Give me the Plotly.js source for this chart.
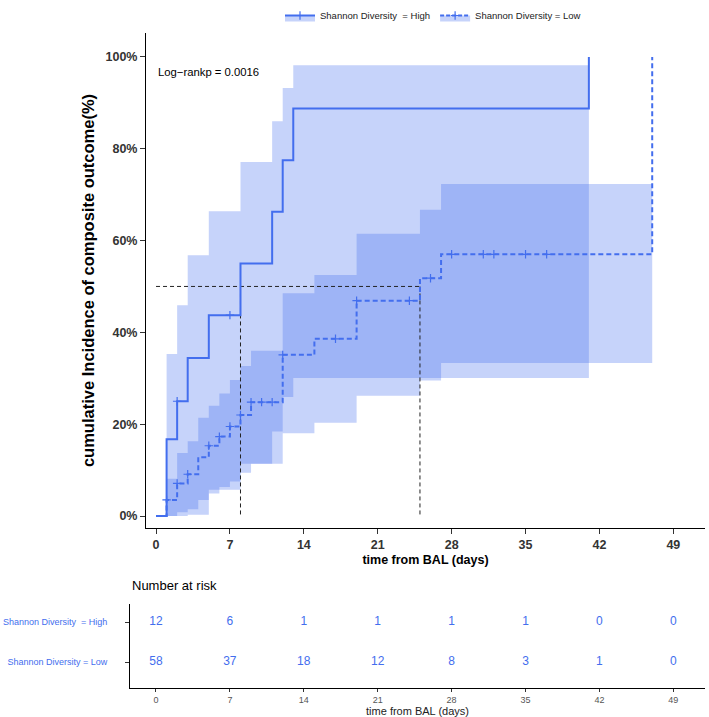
<!DOCTYPE html>
<html>
<head>
<meta charset="utf-8">
<script src="https://cdn.plot.ly/plotly-3.0.1.min.js"></script>
<style>html,body{margin:0;padding:0;background:#fff;}#chart{width:709px;height:717px;}</style>
</head>
<body>
<div id="chart"></div>
<script>
// ---------- DATA ----------
const groupNames = ["Shannon Diversity\u00A0 = High", "Shannon Diversity = Low"];

// cumulative incidence curves (%), step functions
const highTimes = [0, 1, 2, 3, 5, 8, 11, 12, 13, 41];
const highPct   = [0, 16.7, 25.0, 34.4, 43.75, 55.0, 66.25, 77.5, 88.75, 100];
const lowTimes  = [0, 1, 2, 3, 4, 5, 6, 7, 8, 9, 12, 15, 19, 25, 27, 47];
const lowPct    = [0, 3.5, 7.1, 9.1, 12.8, 15.3, 17.3, 19.5, 22.0, 24.8, 35.1, 38.6, 46.9, 51.8, 57.0, 100];

// confidence bands (%)
const highBandTimes = [1, 2, 3, 5, 8, 11, 12, 13, 41];
const highLower     = [0, 0, 0.3, 5.7, 11.4, 18.4, 25.9, 30.05, 30.05];
const highUpper     = [35.3, 45.9, 56.8, 66.4, 77.1, 86.0, 93.2, 98.2, 98.2];
const lowBandTimes  = [1, 2, 3, 4, 5, 6, 7, 8, 9, 12, 15, 19, 25, 27, 47];
const lowLower      = [0, 0.8, 1.5, 3.5, 4.9, 6.3, 7.5, 9.4, 11.4, 18.0, 20.3, 26.2, 29.5, 33.3, 33.3];
const lowUpper      = [8.1, 13.7, 16.3, 21.4, 24.0, 26.7, 29.6, 32.7, 36.0, 48.5, 52.5, 61.5, 66.7, 72.3, 72.3];

// censoring marks
const highCensorT = [2, 7];
const highCensorY = [25.0, 43.75];
const lowCensorT  = [1, 2, 3, 5, 6, 7, 8, 9, 10, 11, 12, 17, 19, 24, 26, 28, 31, 32, 35, 37];
const lowCensorY  = [3.5, 7.1, 9.1, 15.3, 17.3, 19.5, 22.0, 24.8, 24.8, 24.8, 35.1, 38.6, 46.9, 46.9, 51.8, 57.0, 57.0, 57.0, 57.0, 57.0];

// median survival lines
const medianLevel = 50;
const medianTimes = [8, 25];

// axes
const timeTicks = [0, 7, 14, 21, 28, 35, 42, 49];
const pctTicks = [0, 20, 40, 60, 80, 100];
const pctLabels = ["0%", "20%", "40%", "60%", "80%", "100%"];

// number at risk
const riskHigh = [12, 6, 1, 1, 1, 1, 0, 0];
const riskLow  = [58, 37, 18, 12, 8, 3, 1, 0];

const pvalText = "Log\u2212rankp = 0.0016";

// ---------- STYLE ----------
const BLUE = "#436EEE";
const FILL = "rgba(67,110,238,0.30)";
const FONT = "Liberation Sans, Arial, Helvetica, sans-serif";
const W = 709, H = 717;
const px = v => v / W, py = v => 1 - v / H;

const traces = [];
function band(t, lo, up) {
  traces.push({x: t, y: lo, mode: "lines", line: {width: 0, shape: "hv"}, hoverinfo: "skip", showlegend: false, xaxis: "x", yaxis: "y"});
  traces.push({x: t, y: up, mode: "lines", line: {width: 0, shape: "hv"}, fill: "tonexty", fillcolor: FILL, hoverinfo: "skip", showlegend: false, xaxis: "x", yaxis: "y"});
}
band(highBandTimes, highLower, highUpper);
band(lowBandTimes, lowLower, lowUpper);

// median lines
const mx = [0, medianTimes[medianTimes.length - 1], null];
const my = [medianLevel, medianLevel, null];
medianTimes.forEach(t => { mx.push(t, t, null); my.push(medianLevel, 0, null); });
traces.push({x: mx, y: my, mode: "lines", line: {color: "#222", width: 1, dash: "4px,3px"}, showlegend: false, hoverinfo: "skip"});

// curves
traces.push({x: highTimes, y: highPct, mode: "lines", line: {color: BLUE, width: 2, shape: "hv"}, showlegend: false});
traces.push({x: lowTimes, y: lowPct, mode: "lines", line: {color: BLUE, width: 2, shape: "hv", dash: "5px,3px"}, showlegend: false});

// censor marks
const cm = {symbol: "cross-thin", size: 6, color: BLUE, line: {color: BLUE, width: 1.2}};
traces.push({x: highCensorT, y: highCensorY, mode: "markers", marker: cm, showlegend: false});
traces.push({x: lowCensorT, y: lowCensorY, mode: "markers", marker: cm, showlegend: false});

// legend-only entries
traces.push({x: [null], y: [null], name: groupNames[0], mode: "lines+markers", fill: "toself", fillcolor: FILL,
  line: {color: BLUE, width: 2}, marker: cm, showlegend: true});
traces.push({x: [null], y: [null], name: groupNames[1], mode: "lines+markers", fill: "toself", fillcolor: FILL,
  line: {color: BLUE, width: 2, dash: "4px,2px"}, marker: cm, showlegend: true});

// risk table
traces.push({x: timeTicks, y: timeTicks.map(() => 2), mode: "text", text: riskHigh.map(String),
  textfont: {family: FONT, size: 12, color: BLUE}, xaxis: "x2", yaxis: "y2", showlegend: false, hoverinfo: "skip"});
traces.push({x: timeTicks, y: timeTicks.map(() => 1), mode: "text", text: riskLow.map(String),
  textfont: {family: FONT, size: 12, color: BLUE}, xaxis: "x2", yaxis: "y2", showlegend: false, hoverinfo: "skip"});

const tickFontBold = {family: FONT, size: 12.5, color: "#333", weight: "bold"};

const layout = {
  width: W, height: H,
  margin: {l: 0, r: 0, t: 0, b: 0},
  paper_bgcolor: "#fff", plot_bgcolor: "#fff",
  font: {family: FONT},
  showlegend: true,
  legend: {orientation: "h", x: px(280), y: py(1), xanchor: "left", yanchor: "top", traceorder: "normal",
    font: {family: FONT, size: 9.5, color: "#222"}, bgcolor: "rgba(0,0,0,0)", itemwidth: 30, tracegroupgap: 0},
  xaxis: {domain: [px(146), px(705)], range: [-0.95, 52.0], anchor: "y",
    tickvals: timeTicks, ticks: "outside", ticklen: 5, tickcolor: "#333", tickwidth: 1,
    showline: true, linecolor: "#000", linewidth: 1, showgrid: false, zeroline: false,
    tickfont: tickFontBold,
    title: {text: "time from BAL (days)", font: {family: FONT, size: 12.5, color: "#000", weight: "bold"}, standoff: 4}},
  yaxis: {domain: [py(528), py(33)], range: [-2.61, 105.2], anchor: "x",
    tickvals: pctTicks, ticktext: pctLabels, ticks: "outside", ticklen: 5, tickcolor: "#333", tickwidth: 1,
    showline: true, linecolor: "#000", linewidth: 1, showgrid: false, zeroline: false,
    tickfont: tickFontBold,
    title: {text: "cumulative Incidence of composite outcome(%)", font: {family: FONT, size: 16.5, color: "#000", weight: "bold"}, standoff: 6}},
  xaxis2: {domain: [px(130), px(705)], range: [-2.46, 52.0], anchor: "y2",
    tickvals: timeTicks, ticks: "outside", ticklen: 3, tickcolor: "#333",
    showline: true, linecolor: "#000", linewidth: 1, showgrid: false, zeroline: false,
    tickfont: {family: FONT, size: 9, color: "#555"},
    title: {text: "time from BAL (days)", font: {family: FONT, size: 11, color: "#222"}, standoff: 2}},
  yaxis2: {domain: [py(688), py(604)], range: [0.35, 2.45], anchor: "x2",
    tickvals: [2, 1], ticktext: groupNames, ticks: "outside", ticklen: 4, tickcolor: "#333", ticklabelstandoff: 16,
    showline: true, linecolor: "#000", linewidth: 1, showgrid: false, zeroline: false,
    tickfont: {family: FONT, size: 9, color: BLUE}},
  annotations: [
    {text: pvalText, x: 0, y: 96.8, xref: "x", yref: "y", xanchor: "left", yanchor: "middle", showarrow: false,
      font: {family: FONT, size: 11.3, color: "#000"}},
    {text: "Number at risk", x: px(130), y: py(585), xref: "paper", yref: "paper", xanchor: "left", yanchor: "middle", showarrow: false,
      font: {family: FONT, size: 13, color: "#000"}}
  ]
};

Plotly.newPlot("chart", traces, layout, {displayModeBar: false, staticPlot: true});
</script>
</body>
</html>
